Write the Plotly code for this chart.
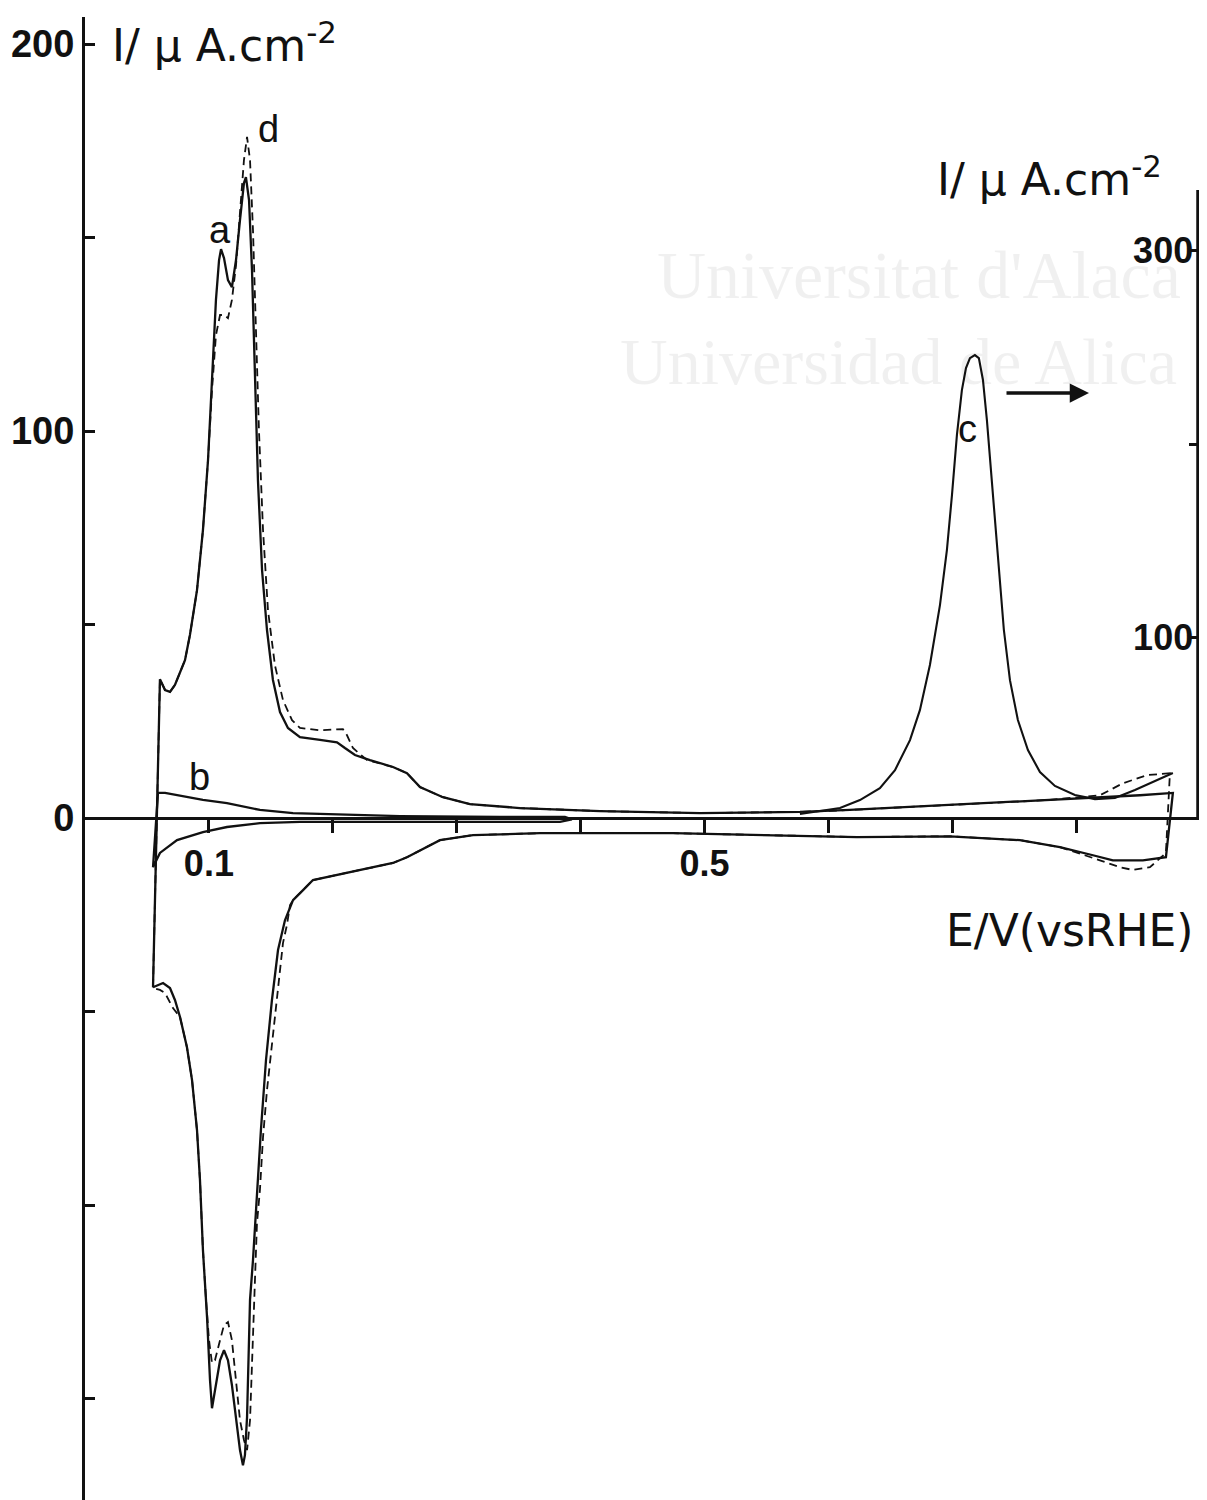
import plotly.graph_objects as go

# ---------------- data (E / V vs RHE, I / uA cm-2) ----------------
# curve a (solid): anodic sweep then cathodic sweep
E_a = [0.0549, 0.0565, 0.0589, 0.0605, 0.0646, 0.0686, 0.0726, 0.0767, 0.0807, 0.0847,
       0.0904, 0.0952, 0.0993, 0.1025, 0.1057, 0.1082, 0.1098, 0.1122, 0.1154, 0.1186,
       0.1219, 0.1251, 0.1283, 0.1299, 0.1324, 0.1348, 0.1372, 0.1396, 0.1429, 0.1469,
       0.1517, 0.1574, 0.1638, 0.1735, 0.1897, 0.2034, 0.2098, 0.2179, 0.2300, 0.2486,
       0.2599, 0.2704, 0.2889, 0.3107, 0.3511, 0.4157, 0.4964, 0.5771, 0.6174, 0.6981,
       0.7789, 0.8192, 0.8515, 0.8781,
       0.8725, 0.8539, 0.8297, 0.8136, 0.7869, 0.7546, 0.6981, 0.6231, 0.5553, 0.4746,
       0.3672, 0.3132, 0.2865, 0.2760, 0.2599, 0.2486, 0.2220, 0.1953, 0.1840, 0.1760,
       0.1679, 0.1614, 0.1558, 0.1509, 0.1461, 0.1420, 0.1388, 0.1356, 0.1332, 0.1320,
       0.1308, 0.1291, 0.1275, 0.1251, 0.1219, 0.1186, 0.1154, 0.1122, 0.1090, 0.1057,
       0.1025, 0.1009, 0.0985, 0.0952, 0.0928, 0.0904, 0.0864, 0.0823, 0.0767, 0.0726,
       0.0686, 0.0630, 0.0581, 0.0549]
I_a = [-43.7, -21.2, 9.8, 35.9, 33.1, 32.6, 34.4, 37.5, 40.8, 47.3,
       58.9, 74.4, 92.5, 113.2, 133.9, 144.2, 147.0, 144.7, 139.0, 137.2,
       144.2, 154.5, 164.1, 165.6, 159.7, 141.6, 113.2, 87.3, 64.1, 48.6,
       35.7, 27.4, 23.3, 20.9, 20.2, 19.6, 18.1, 16.3, 15.0, 13.2,
       11.6, 8.0, 5.4, 3.6, 2.6, 1.8, 1.3, 1.6, 2.1, 3.4,
       4.7, 5.4, 5.9, 6.5,
       -10.1, -10.9, -10.9, -9.6, -7.5, -5.7, -4.7, -4.9, -4.4, -3.9,
       -3.9, -4.4, -5.7, -7.5, -10.1, -11.6, -13.4, -15.2, -16.0, -18.6,
       -21.2, -26.4, -34.1, -47.0, -62.5, -80.6, -98.7, -114.2, -124.5, -137.5,
       -154.8, -164.6, -167.2, -163.3, -154.3, -146.5, -140.1, -137.5, -140.1, -146.5,
       -152.5, -145.2, -128.9, -111.6, -93.5, -80.6, -67.7, -59.2, -51.4, -47.0,
       -43.9, -42.6, -43.2, -43.7]

# curve d (dashed)
E_d = [0.0549, 0.0565, 0.0589, 0.0605, 0.0646, 0.0686, 0.0726, 0.0767, 0.0807, 0.0847,
       0.0904, 0.0952, 0.0993, 0.1025, 0.1057, 0.1090, 0.1122, 0.1154, 0.1186, 0.1219,
       0.1251, 0.1283, 0.1308, 0.1332, 0.1356, 0.1380, 0.1404, 0.1437, 0.1477, 0.1533,
       0.1598, 0.1671, 0.1735, 0.1897, 0.2018, 0.2082, 0.2115, 0.2163, 0.2276, 0.2486,
       0.2599, 0.2704, 0.2889, 0.3107, 0.3511, 0.4157, 0.4964, 0.5771, 0.6174, 0.6981,
       0.7789, 0.8192, 0.8378, 0.8571, 0.8757,
       0.8725, 0.8596, 0.8458, 0.8354, 0.8192, 0.7869, 0.7546, 0.6981, 0.6231, 0.5553,
       0.4746, 0.3672, 0.3132, 0.2865, 0.2760, 0.2599, 0.2486, 0.2220, 0.1953, 0.1840,
       0.1760, 0.1679, 0.1655, 0.1630, 0.1598, 0.1550, 0.1509, 0.1469, 0.1437, 0.1412,
       0.1388, 0.1372, 0.1356, 0.1332, 0.1308, 0.1283, 0.1251, 0.1219, 0.1186, 0.1154,
       0.1122, 0.1090, 0.1049, 0.1025, 0.1001, 0.0977, 0.0952, 0.0928, 0.0904, 0.0864,
       0.0823, 0.0767, 0.0710, 0.0646, 0.0605, 0.0549]
I_d = [-43.7, -21.2, 9.8, 35.9, 33.1, 32.6, 34.4, 37.5, 40.8, 47.3,
       58.9, 74.4, 92.5, 110.6, 124.8, 130.0, 130.0, 129.2, 133.9, 142.9,
       155.8, 170.0, 176.0, 170.0, 151.9, 126.1, 100.3, 74.4, 53.7, 39.5,
       30.5, 25.3, 23.3, 22.7, 23.0, 23.0, 21.4, 18.1, 15.0, 13.2,
       11.6, 8.0, 5.4, 3.6, 2.6, 1.8, 1.3, 1.6, 2.1, 3.4,
       4.7, 5.9, 9.0, 11.1, 11.6,
       -9.0, -12.7, -13.4, -12.7, -10.9, -7.5, -5.7, -4.7, -4.9, -4.4,
       -3.9, -3.9, -4.4, -5.7, -7.5, -10.1, -11.6, -13.4, -15.2, -16.0,
       -18.6, -21.2, -22.5, -27.6, -32.3, -46.3, -57.4, -70.3, -82.4, -96.1,
       -104.7, -119.4, -137.5, -155.6, -163.3, -160.7, -155.6, -145.2, -134.9, -130.2,
       -131.0, -134.9, -140.1, -140.8, -134.9, -124.5, -111.6, -93.5, -80.6, -67.7,
       -59.2, -51.4, -49.1, -45.2, -44.4, -43.9]

# curve b (solid, small currents, narrow potential window)
E_b = [0.0549, 0.0589, 0.0646, 0.0743, 0.0952, 0.1146, 0.1412, 0.1679, 0.1953, 0.2542,
       0.3349, 0.3874, 0.3930,
       0.3834, 0.3349, 0.2542, 0.1735, 0.1412, 0.1146, 0.0952, 0.0743, 0.0605, 0.0549]
I_b = [-12.7, 6.5, 6.5, 5.9, 4.7, 3.9, 2.1, 1.3, 1.0, 0.5,
       0.3, 0.3, -0.3,
       -1.0, -1.0, -1.0, -1.0, -1.3, -2.3, -3.6, -5.7, -9.0, -12.7]

# curve c (solid, read on the right-hand current axis)
E_c = [0.5771, 0.6094, 0.6255, 0.6416, 0.6538, 0.6659, 0.6739, 0.6820, 0.6901, 0.6957,
       0.6998, 0.7038, 0.7078, 0.7111, 0.7143, 0.7183, 0.7215, 0.7248, 0.7280, 0.7312,
       0.7345, 0.7377, 0.7417, 0.7466, 0.7530, 0.7611, 0.7708, 0.7829, 0.7990, 0.8152,
       0.8313, 0.8475, 0.8636, 0.8781]
I_c = [8.8, 11.9, 16.0, 22.2, 31.5, 47.0, 62.5, 85.8, 116.8, 145.2,
       173.6, 204.7, 227.9, 239.3, 244.4, 246.0, 244.4, 233.1, 212.4, 186.6,
       160.7, 132.3, 103.9, 78.0, 57.4, 41.9, 30.5, 23.3, 18.6, 16.5,
       17.1, 21.2, 25.8, 30.0]

# axes
x_tickvals = [0.1, 0.2, 0.3, 0.4, 0.5, 0.6, 0.7, 0.8]
x_ticktext = ["0.1", "", "", "", "0.5", "", "", ""]
yl_tickvals = [-150, -100, -50, 0, 50, 100, 150, 200]
yl_ticktext = ["", "", "", "0", "", "100", "", "200"]
yr_tickvals = [100, 200, 300]
yr_ticktext = ["100", "", "300"]

# ---------------- layout geometry ----------------
OFF = 8                      # the page body adds an 8 px margin
PAGE_W, PAGE_H = 1207, 1500
W, H = PAGE_W - OFF, PAGE_H - OFF
PLOT_L, PLOT_R, PLOT_T, PLOT_B = 85, 1200, 17, 1500   # plot box in page pixels
ML = PLOT_L - OFF
MT = PLOT_T - OFF
MR = PAGE_W - PLOT_R
MB = PAGE_H - PLOT_B
X_RANGE = [0.0, 0.9]
Y_RANGE = [-176.2, 207.0]          # left axis
Y2_FULL = [-345.7, 420.7]          # right-axis scale over the full plot height
PW = PLOT_R - PLOT_L
PH = PLOT_B - PLOT_T


def fx(px):
    return (px - PLOT_L) / PW


def fy(py):
    return (PLOT_B - py) / PH


zero_frac = (0 - Y_RANGE[0]) / (Y_RANGE[1] - Y_RANGE[0])
y2_lo = fy(818)
y2_hi = fy(190)
y2_range = [Y2_FULL[0] + (Y2_FULL[1] - Y2_FULL[0]) * y2_lo,
            Y2_FULL[0] + (Y2_FULL[1] - Y2_FULL[0]) * y2_hi]

FONT = "Liberation Sans, Arial, sans-serif"
TFONT = "DejaVu Sans, Verdana, sans-serif"
BLACK = "#111111"

fig = go.Figure()
fig.add_trace(go.Scatter(x=E_a, y=I_a, mode="lines", name="a",
                         line=dict(color=BLACK, width=2.3)))
fig.add_trace(go.Scatter(x=E_d, y=I_d, mode="lines", name="d",
                         line=dict(color=BLACK, width=1.8, dash="8px,5px")))
fig.add_trace(go.Scatter(x=E_b, y=I_b, mode="lines", name="b",
                         line=dict(color=BLACK, width=2.3)))
fig.add_trace(go.Scatter(x=E_c, y=I_c, mode="lines", name="c", yaxis="y2",
                         line=dict(color=BLACK, width=2.1)))

tickfont = dict(family=FONT, size=38, color=BLACK, weight="bold")

fig.update_layout(
    width=W, height=H,
    margin=dict(l=ML, r=MR, t=MT, b=MB, pad=0),
    paper_bgcolor="white", plot_bgcolor="rgba(0,0,0,0)",
    showlegend=False,
    xaxis=dict(range=X_RANGE, anchor="free", position=zero_frac,
               showline=True, linecolor=BLACK, linewidth=3,
               ticks="outside", ticklen=13, tickwidth=2.5, tickcolor=BLACK,
               tickvals=x_tickvals, ticktext=x_ticktext,
               tickfont=dict(family=FONT, size=36, color=BLACK, weight="bold"),
               showgrid=False, zeroline=False),
    yaxis=dict(range=Y_RANGE, showline=True, linecolor=BLACK, linewidth=3,
               ticks="inside", ticklen=10, tickwidth=2.5, tickcolor=BLACK,
               tickvals=yl_tickvals, ticktext=yl_ticktext, tickfont=tickfont,
               showgrid=False, zeroline=False),
    yaxis2=dict(domain=[y2_lo, y2_hi], range=y2_range, anchor="free", position=1.0,
                side="right",
                showline=True, linecolor=BLACK, linewidth=3,
                ticks="inside", ticklen=10, tickwidth=2.5, tickcolor=BLACK,
                ticklabelposition="inside",
                tickvals=yr_tickvals, ticktext=yr_ticktext,
                tickfont=dict(family=FONT, size=36, color=BLACK, weight="bold"),
                showgrid=False, zeroline=False),
    # line of the right-hand axis over its own domain
    shapes=[dict(type="line", xref="paper", yref="paper",
                 x0=1 - 2.0 / PW, x1=1 - 2.0 / PW, y0=y2_lo, y1=y2_hi,
                 line=dict(color=BLACK, width=3.5), layer="above")],
)

lab = dict(family=FONT, size=38, color=BLACK)
title_font = dict(family=TFONT, size=44, color=BLACK)
wm_font1 = dict(family="Liberation Serif, Times New Roman, serif", size=68,
                color="rgba(0,0,0,0.06)")
wm_font2 = dict(family="Liberation Serif, Times New Roman, serif", size=66,
                color="rgba(0,0,0,0.06)")

annotations = [
    # faint watermark of the scanned source
    dict(text="Universitat d'Alaca", x=fx(655), y=fy(275), xref="paper", yref="paper",
         xanchor="left", yanchor="middle", showarrow=False, font=wm_font1),
    dict(text="Universidad de Alica", x=fx(618), y=fy(362), xref="paper", yref="paper",
         xanchor="left", yanchor="middle", showarrow=False, font=wm_font2),
    # axis titles
    dict(text="I/ \u03bc A.cm<sup>-2</sup>", x=fx(110), y=fy(42), xref="paper", yref="paper",
         xanchor="left", yanchor="middle", showarrow=False, font=title_font),
    dict(text="I/ \u03bc A.cm<sup>-2</sup>", x=fx(935), y=fy(176), xref="paper", yref="paper",
         xanchor="left", yanchor="middle", showarrow=False, font=title_font),
    dict(text="E/V(vsRHE)", x=fx(944), y=fy(930), xref="paper", yref="paper",
         xanchor="left", yanchor="middle", showarrow=False,
         font=dict(family=TFONT, size=44, color=BLACK)),
    # curve labels
    dict(text="a", x=0.109, y=152, xref="x", yref="y", showarrow=False, font=lab),
    dict(text="d", x=0.1485, y=178, xref="x", yref="y", showarrow=False, font=lab),
    dict(text="b", x=0.0928, y=10.5, xref="x", yref="y", showarrow=False, font=lab),
    dict(text="c", x=0.712, y=100.5, xref="x", yref="y", showarrow=False, font=lab),
    # arrow pointing to the right-hand axis
    dict(text="", x=fx(1089), y=fy(393), xref="paper", yref="paper",
         ax=-84, ay=0, showarrow=True, arrowhead=2, arrowsize=1.1,
         arrowwidth=3.5, arrowcolor=BLACK),
]
fig.update_layout(annotations=annotations)

fig.write_html("out.html")
